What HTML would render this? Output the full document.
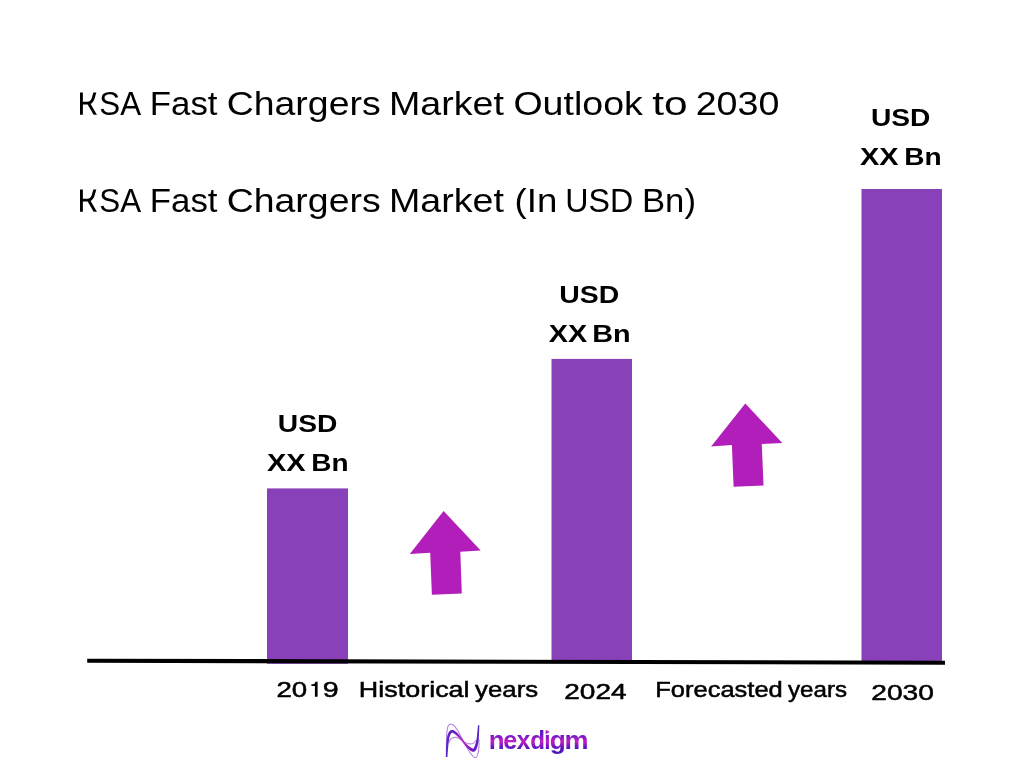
<!DOCTYPE html>
<html><head><meta charset="utf-8"><style>
html,body{margin:0;padding:0;background:#fff;width:1024px;height:768px;overflow:hidden}
svg{display:block;will-change:transform}
text{font-family:"Liberation Sans",sans-serif;font-kerning:none}
</style></head><body>
<svg width="1024" height="768" viewBox="0 0 1024 768">
<defs>
<linearGradient id="lg" gradientUnits="userSpaceOnUse" x1="0" y1="728" x2="0" y2="755">
<stop offset="0" stop-color="#4c1cc0"/><stop offset="0.26" stop-color="#6a1ac8"/><stop offset="0.5" stop-color="#c41ec4"/><stop offset="0.74" stop-color="#5a14c0"/><stop offset="1" stop-color="#4418c0"/>
</linearGradient>
<linearGradient id="ig" gradientUnits="userSpaceOnUse" x1="446" y1="0" x2="479" y2="0">
<stop offset="0" stop-color="#5626c4"/><stop offset="0.28" stop-color="#7020c8"/><stop offset="0.52" stop-color="#bc2cc4"/><stop offset="0.74" stop-color="#7c14c2"/><stop offset="1" stop-color="#5424c4"/>
</linearGradient>
</defs>
<rect width="1024" height="768" fill="#fff"/>
<rect x="267" y="488.4" width="81" height="175.4" fill="#8941BA"/>
<rect x="551.5" y="358.9" width="80.5" height="303" fill="#8941BA"/>
<rect x="861.5" y="189" width="80.5" height="472" fill="#8941BA"/>
<polygon points="87.2,658.7 945,660.8 945,664.7 87.2,662.8" fill="#000"/>
<polygon points="443.6,511.1 480.7,550.5 460.3,551.8 461.8,593.5 431.9,594.8 430.2,552.7 409.8,554.0" fill="#B21EB9"/>
<polygon points="745.3,403.5 782.3,443.0 761.8,444.1 763.5,485.5 733.6,486.8 731.9,445.1 711.1,446.4" fill="#B21EB9"/>
<text x="99.28" y="114.70" font-size="32.4" textLength="41.78" lengthAdjust="spacingAndGlyphs" fill="#000">SA</text>
<text x="149.84" y="114.70" font-size="32.4" textLength="67.71" lengthAdjust="spacingAndGlyphs" fill="#000">Fast</text>
<text x="226.70" y="114.70" font-size="32.4" textLength="153.95" lengthAdjust="spacingAndGlyphs" fill="#000">Chargers</text>
<text x="389.01" y="114.70" font-size="32.4" textLength="114.96" lengthAdjust="spacingAndGlyphs" fill="#000">Market</text>
<text x="513.42" y="114.70" font-size="32.4" textLength="129.42" lengthAdjust="spacingAndGlyphs" fill="#000">Outlook</text>
<text x="652.36" y="114.70" font-size="32.4" textLength="35.32" lengthAdjust="spacingAndGlyphs" fill="#000">to</text>
<text x="695.71" y="114.70" font-size="32.4" textLength="83.66" lengthAdjust="spacingAndGlyphs" fill="#000">2030</text>
<text x="99.28" y="211.70" font-size="32.4" textLength="41.78" lengthAdjust="spacingAndGlyphs" fill="#000">SA</text>
<text x="149.84" y="211.70" font-size="32.4" textLength="67.71" lengthAdjust="spacingAndGlyphs" fill="#000">Fast</text>
<text x="226.70" y="211.70" font-size="32.4" textLength="153.95" lengthAdjust="spacingAndGlyphs" fill="#000">Chargers</text>
<text x="389.01" y="211.70" font-size="32.4" textLength="114.96" lengthAdjust="spacingAndGlyphs" fill="#000">Market</text>
<text x="514.63" y="211.70" font-size="32.4" textLength="42.75" lengthAdjust="spacingAndGlyphs" fill="#000">(In</text>
<text x="565.32" y="211.70" font-size="32.4" textLength="67.92" lengthAdjust="spacingAndGlyphs" fill="#000">USD</text>
<text x="641.95" y="211.70" font-size="32.4" textLength="54.00" lengthAdjust="spacingAndGlyphs" fill="#000">Bn)</text>
<text x="277.81" y="432.10" font-size="24.5" font-weight="bold" textLength="59.58" lengthAdjust="spacingAndGlyphs" fill="#000">USD</text>
<text x="267.05" y="470.90" font-size="24.5" font-weight="bold" textLength="38.61" lengthAdjust="spacingAndGlyphs" fill="#000">XX</text>
<text x="311.33" y="470.90" font-size="24.5" font-weight="bold" textLength="37.31" lengthAdjust="spacingAndGlyphs" fill="#000">Bn</text>
<text x="559.29" y="303.30" font-size="24.5" font-weight="bold" textLength="60.00" lengthAdjust="spacingAndGlyphs" fill="#000">USD</text>
<text x="548.75" y="341.90" font-size="24.5" font-weight="bold" textLength="38.41" lengthAdjust="spacingAndGlyphs" fill="#000">XX</text>
<text x="592.27" y="341.90" font-size="24.5" font-weight="bold" textLength="38.41" lengthAdjust="spacingAndGlyphs" fill="#000">Bn</text>
<text x="871.01" y="126.20" font-size="24.5" font-weight="bold" textLength="59.47" lengthAdjust="spacingAndGlyphs" fill="#000">USD</text>
<text x="860.05" y="165.00" font-size="24.5" font-weight="bold" textLength="38.51" lengthAdjust="spacingAndGlyphs" fill="#000">XX</text>
<text x="904.32" y="165.00" font-size="24.5" font-weight="bold" textLength="37.42" lengthAdjust="spacingAndGlyphs" fill="#000">Bn</text>
<text x="276.41" y="697.00" font-size="22.5" textLength="30.77" lengthAdjust="spacingAndGlyphs" fill="#000" stroke="#000" stroke-width="0.5">20</text>
<text x="322.86" y="697.00" font-size="22.5" textLength="15.89" lengthAdjust="spacingAndGlyphs" fill="#000" stroke="#000" stroke-width="0.5">9</text>
<text x="358.89" y="696.90" font-size="22.3" textLength="110.71" lengthAdjust="spacingAndGlyphs" fill="#000" stroke="#000" stroke-width="0.5">Historical</text>
<text x="475.14" y="696.90" font-size="22.3" textLength="62.99" lengthAdjust="spacingAndGlyphs" fill="#000" stroke="#000" stroke-width="0.5">years</text>
<text x="564.29" y="698.90" font-size="22.5" textLength="62.33" lengthAdjust="spacingAndGlyphs" fill="#000" stroke="#000" stroke-width="0.5">2024</text>
<text x="655.31" y="696.90" font-size="22.0" textLength="127.43" lengthAdjust="spacingAndGlyphs" fill="#000" stroke="#000" stroke-width="0.5">Forecasted</text>
<text x="788.04" y="696.90" font-size="22.0" textLength="59.03" lengthAdjust="spacingAndGlyphs" fill="#000" stroke="#000" stroke-width="0.5">years</text>
<text x="871.28" y="699.90" font-size="22.5" textLength="62.62" lengthAdjust="spacingAndGlyphs" fill="#000" stroke="#000" stroke-width="0.5">2030</text>
<clipPath id="kc1"><rect x="70" y="92.4" width="40" height="22.3"/></clipPath>
<clipPath id="kc2"><rect x="70" y="189.3" width="40" height="22.1"/></clipPath>
<g fill="none" stroke="#000" stroke-width="2.85" clip-path="url(#kc1)">
<path d="M81.45,90 V117 M81.45,103.1 H87.5 C90.6,103.1 92.2,101.3 93.1,98.5 L95.4,90.5 M88.4,103.0 L96.6,117"/>
</g>
<g fill="none" stroke="#000" stroke-width="2.85" clip-path="url(#kc1)" transform="translate(0,97)">
<path d="M81.45,90 V117 M81.45,103.1 H87.5 C90.6,103.1 92.2,101.3 93.1,98.5 L95.4,90.5 M88.4,103.0 L96.6,117"/>
</g>
<path d="M311.4,684.3 L313.4,684.2 Q315.1,683.7 315.5,681.7 L317.6,681.7 L317.6,696.8 L314.9,696.8 L314.9,685.9 L311.4,685.9 Z" fill="#000"/>
<g id="logo">
<path d="M446.40,752.00 L446.41,750.70 L446.42,749.36 L446.43,748.01 L446.43,746.64 L446.44,745.27 L446.44,743.92 L446.45,742.58 L446.47,741.28 L446.49,740.02 L446.51,738.81 L446.55,737.67 L446.60,736.60 L446.66,735.59 L446.72,734.62 L446.79,733.70 L446.86,732.81 L446.94,731.97 L447.03,731.17 L447.13,730.41 L447.23,729.70 L447.33,729.03 L447.45,728.41 L447.57,727.83 L447.70,727.30 L447.84,726.82 L447.97,726.40 L448.12,726.04 L448.27,725.72 L448.43,725.45 L448.59,725.22 L448.77,725.02 L448.95,724.86 L449.15,724.71 L449.35,724.60 L449.57,724.49 L449.80,724.40 L450.05,724.32 L450.31,724.27 L450.58,724.24 L450.87,724.23 L451.16,724.25 L451.47,724.29 L451.78,724.37 L452.10,724.47 L452.42,724.60 L452.75,724.77 L453.07,724.97 L453.40,725.20 L453.73,725.47 L454.07,725.78 L454.41,726.13 L454.76,726.51 L455.11,726.92 L455.47,727.36 L455.82,727.83 L456.18,728.31 L456.54,728.81 L456.90,729.33 L457.25,729.86 L457.60,730.40 L457.95,730.96 L458.29,731.54 L458.63,732.16 L458.97,732.79 L459.31,733.44 L459.65,734.11 L459.99,734.78 L460.33,735.47 L460.68,736.15 L461.03,736.84 L461.39,737.52 L461.75,738.20 L462.12,738.88 L462.50,739.57 L462.89,740.28 L463.28,740.99 L463.67,741.70 L464.07,742.41 L464.47,743.12 L464.86,743.83 L465.26,744.52 L465.65,745.20 L466.03,745.86 L466.40,746.50 L466.77,747.13 L467.13,747.75 L467.48,748.37 L467.83,748.97 L468.18,749.57 L468.53,750.16 L468.87,750.73 L469.22,751.28 L469.56,751.82 L469.91,752.33 L470.25,752.83 L470.60,753.30 L470.96,753.76 L471.32,754.22 L471.69,754.68 L472.06,755.13 L472.43,755.55 L472.80,755.96 L473.16,756.33 L473.52,756.66 L473.86,756.95 L474.19,757.19 L474.51,757.38 L474.80,757.50 L475.08,757.57 L475.34,757.59 L475.59,757.57 L475.83,757.50 L476.05,757.39 L476.27,757.24 L476.48,757.04 L476.67,756.80 L476.86,756.52 L477.05,756.19 L477.23,755.82 L477.40,755.40 L477.57,754.92 L477.73,754.36 L477.89,753.73 L478.04,753.04 L478.18,752.32 L478.31,751.56 L478.44,750.78 L478.55,749.99 L478.66,749.21 L478.75,748.44 L478.83,747.70 L478.90,747.00 L478.95,746.33 L478.99,745.67 L479.01,745.01 L479.01,744.36 L479.01,743.71 L478.99,743.06 L478.98,742.42 L478.96,741.78 L478.94,741.14 L478.92,740.49 L478.90,739.85 L478.90,739.20" fill="none" stroke="#9a5ad8" stroke-opacity="0.75" stroke-width="1.1"/>
<path d="M449.30,742.50 L449.40,742.22 L449.49,741.93 L449.56,741.64 L449.64,741.34 L449.71,741.05 L449.79,740.76 L449.87,740.47 L449.97,740.19 L450.09,739.92 L450.23,739.66 L450.40,739.42 L450.60,739.20 L450.83,738.99 L451.08,738.78 L451.36,738.57 L451.66,738.37 L451.97,738.19 L452.31,738.01 L452.65,737.85 L453.01,737.71 L453.37,737.60 L453.74,737.50 L454.12,737.44 L454.50,737.40 L454.89,737.39 L455.29,737.41 L455.71,737.45 L456.14,737.51 L456.57,737.60 L457.02,737.71 L457.47,737.83 L457.92,737.97 L458.37,738.13 L458.82,738.31 L459.26,738.50 L459.70,738.70 L460.13,738.93 L460.57,739.20 L461.00,739.51 L461.43,739.84 L461.87,740.18 L462.30,740.54 L462.73,740.89 L463.17,741.24 L463.60,741.57 L464.03,741.88 L464.47,742.16 L464.90,742.40 L465.34,742.61 L465.79,742.81 L466.24,742.99 L466.69,743.16 L467.15,743.31 L467.60,743.44 L468.05,743.56 L468.49,743.67 L468.91,743.75 L469.33,743.82 L469.72,743.87 L470.10,743.90 L470.46,743.91 L470.81,743.90 L471.15,743.86 L471.47,743.81 L471.79,743.74 L472.09,743.66 L472.39,743.56 L472.67,743.44 L472.94,743.32 L473.21,743.19 L473.46,743.05 L473.70,742.90 L473.93,742.74 L474.14,742.56 L474.33,742.36 L474.51,742.15 L474.68,741.93 L474.84,741.70 L475.00,741.46 L475.16,741.23 L475.31,740.99 L475.47,740.75 L475.63,740.52 L475.80,740.30" fill="none" stroke="#a060d8" stroke-opacity="0.75" stroke-width="1.1"/>
<path d="M447.40,757.05 L447.45,756.44 L447.50,755.83 L447.54,755.22 L447.59,754.60 L447.63,753.98 L447.68,753.36 L447.72,752.74 L447.77,752.12 L447.81,751.50 L447.86,750.88 L447.90,750.27 L447.95,749.67 L448.00,749.06 L448.05,748.47 L448.10,747.88 L448.15,747.31 L448.21,746.74 L448.27,746.18 L448.33,745.64 L448.39,745.11 L448.45,744.57 L448.51,744.04 L448.57,743.51 L448.64,742.99 L448.70,742.46 L448.76,741.95 L448.82,741.44 L448.89,740.94 L448.96,740.45 L449.03,739.97 L449.10,739.50 L449.17,739.04 L449.25,738.60 L449.33,738.17 L449.42,737.75 L449.51,737.36 L449.60,736.98 L449.69,736.62 L449.79,736.29 L449.89,735.97 L450.00,735.67 L450.12,735.38 L450.23,735.11 L450.35,734.85 L450.47,734.60 L450.60,734.36 L450.72,734.14 L450.85,733.94 L450.98,733.75 L451.10,733.58 L451.23,733.43 L451.35,733.29 L451.47,733.16 L451.59,733.06 L451.69,732.97 L451.80,732.90 L451.89,732.84 L451.98,732.80 L452.05,732.77 L452.11,732.76 L452.13,732.74 L452.15,732.73 L452.17,732.72 L452.21,732.72 L452.27,732.72 L452.35,732.72 L452.44,732.74 L452.56,732.77 L452.69,732.82 L452.83,732.88 L452.98,732.95 L453.15,733.03 L453.32,733.13 L453.51,733.24 L453.70,733.35 L453.89,733.48 L454.09,733.61 L454.30,733.75 L454.51,733.90 L454.72,734.04 L454.93,734.18 L455.14,734.33 L455.36,734.49 L455.58,734.67 L455.82,734.86 L456.05,735.06 L456.30,735.27 L456.54,735.49 L456.79,735.72 L457.04,735.96 L457.29,736.20 L457.55,736.44 L457.80,736.68 L458.04,736.93 L458.29,737.18 L458.53,737.42 L458.77,737.66 L459.00,737.90 L459.23,738.13 L459.45,738.36 L459.65,738.58 L459.84,738.80 L460.03,739.02 L460.21,739.25 L460.39,739.47 L460.57,739.70 L460.74,739.92 L460.91,740.15 L461.09,740.38 L461.26,740.61 L461.43,740.84 L461.61,741.08 L461.78,741.31 L461.96,741.55 L462.14,741.78 L462.33,742.02 L462.51,742.26 L462.71,742.50 L462.91,742.74 L463.11,742.97 L463.29,743.22 L463.47,743.46 L463.66,743.71 L463.84,743.96 L464.03,744.21 L464.22,744.46 L464.42,744.72 L464.61,744.97 L464.81,745.23 L465.01,745.48 L465.21,745.74 L465.42,745.99 L465.63,746.24 L465.85,746.49 L466.06,746.74 L466.29,746.98 L466.52,747.23 L466.75,747.46 L466.99,747.70 L467.23,747.92 L467.46,748.14 L467.71,748.36 L467.96,748.60 L468.22,748.83 L468.49,749.07 L468.76,749.31 L469.05,749.55 L469.33,749.79 L469.62,750.02 L469.92,750.25 L470.21,750.47 L470.51,750.68 L470.81,750.88 L471.12,751.07 L471.43,751.24 L471.74,751.40 L472.07,751.54 L472.42,751.66 L472.79,751.75 L473.18,751.80 L473.56,751.77 L473.92,751.70 L474.26,751.59 L474.58,751.44 L474.88,751.27 L475.15,751.07 L475.38,750.85 L475.59,750.62 L475.78,750.38 L475.94,750.14 L476.09,749.90 L476.23,749.65 L476.36,749.39 L476.47,749.14 L476.59,748.88 L476.69,748.61 L476.80,748.35 L476.90,748.07 L477.00,747.80 L477.10,747.52 L477.20,747.21 L477.30,746.90 L477.40,746.58 L477.50,746.25 L477.59,745.91 L477.68,745.56 L477.76,745.20 L477.85,744.83 L477.93,744.45 L478.01,744.06 L478.09,743.66 L478.16,743.24 L478.24,742.81 L478.31,742.36 L478.38,741.90 L478.44,741.42 L478.51,740.93 L478.57,740.42 L478.63,739.89 L478.69,739.34 L478.74,738.77 L478.79,738.17 L478.83,737.54 L478.87,736.89 L478.91,736.22 L478.94,735.53 L478.98,734.83 L479.01,734.11 L479.04,733.39 L479.07,732.65 L479.09,731.90 L479.12,731.15 L479.15,730.40 L479.18,729.65 L479.20,728.90 L479.23,728.15 L479.26,727.41 L479.29,726.68 L479.32,725.96 L479.35,725.25 L478.05,725.15 L477.98,725.86 L477.90,726.58 L477.83,727.31 L477.75,728.05 L477.68,728.79 L477.61,729.54 L477.54,730.29 L477.47,731.04 L477.39,731.79 L477.32,732.53 L477.25,733.26 L477.17,733.98 L477.10,734.69 L477.02,735.38 L476.94,736.05 L476.86,736.70 L476.78,737.33 L476.69,737.94 L476.60,738.51 L476.51,739.06 L476.42,739.58 L476.33,740.09 L476.24,740.57 L476.15,741.04 L476.06,741.49 L475.97,741.92 L475.87,742.34 L475.77,742.74 L475.68,743.12 L475.58,743.49 L475.48,743.84 L475.37,744.18 L475.27,744.51 L475.16,744.82 L475.06,745.13 L474.95,745.42 L474.84,745.70 L474.73,745.97 L474.61,746.23 L474.50,746.48 L474.38,746.74 L474.27,747.00 L474.16,747.24 L474.05,747.46 L473.95,747.67 L473.85,747.86 L473.75,748.04 L473.65,748.19 L473.56,748.32 L473.48,748.43 L473.40,748.52 L473.34,748.58 L473.28,748.62 L473.25,748.64 L473.22,748.65 L473.21,748.64 L473.22,748.63 L473.22,748.62 L473.22,748.61 L473.22,748.60 L473.20,748.62 L473.14,748.63 L473.03,748.62 L472.88,748.58 L472.69,748.52 L472.48,748.44 L472.25,748.34 L472.01,748.22 L471.75,748.08 L471.48,747.93 L471.21,747.76 L470.93,747.59 L470.65,747.41 L470.37,747.22 L470.09,747.03 L469.82,746.83 L469.54,746.64 L469.28,746.45 L469.02,746.26 L468.77,746.08 L468.54,745.91 L468.32,745.73 L468.10,745.55 L467.88,745.36 L467.67,745.16 L467.45,744.96 L467.23,744.75 L467.02,744.54 L466.80,744.32 L466.59,744.10 L466.38,743.88 L466.17,743.66 L465.96,743.43 L465.75,743.20 L465.54,742.97 L465.33,742.74 L465.12,742.51 L464.91,742.28 L464.70,742.05 L464.49,741.83 L464.31,741.60 L464.13,741.37 L463.96,741.14 L463.79,740.91 L463.63,740.68 L463.46,740.45 L463.30,740.21 L463.13,739.98 L462.97,739.74 L462.80,739.50 L462.64,739.26 L462.47,739.02 L462.29,738.78 L462.12,738.53 L461.94,738.28 L461.75,738.04 L461.56,737.79 L461.36,737.54 L461.16,737.29 L460.95,737.04 L460.75,736.79 L460.54,736.53 L460.33,736.27 L460.10,736.00 L459.88,735.73 L459.65,735.45 L459.41,735.18 L459.18,734.90 L458.94,734.63 L458.69,734.36 L458.45,734.09 L458.21,733.82 L457.96,733.56 L457.72,733.30 L457.47,733.06 L457.23,732.81 L456.99,732.58 L456.75,732.36 L456.51,732.15 L456.28,731.96 L456.06,731.79 L455.84,731.62 L455.63,731.46 L455.41,731.30 L455.19,731.14 L454.97,730.98 L454.75,730.83 L454.52,730.68 L454.29,730.54 L454.05,730.41 L453.80,730.29 L453.54,730.17 L453.27,730.07 L452.99,729.99 L452.70,729.92 L452.39,729.88 L452.08,729.87 L451.75,729.89 L451.41,729.95 L451.09,730.04 L450.81,730.17 L450.55,730.32 L450.30,730.49 L450.07,730.67 L449.84,730.87 L449.63,731.08 L449.43,731.30 L449.24,731.54 L449.06,731.79 L448.88,732.04 L448.72,732.31 L448.56,732.59 L448.40,732.88 L448.26,733.19 L448.12,733.50 L447.98,733.82 L447.86,734.16 L447.73,734.50 L447.62,734.86 L447.51,735.23 L447.40,735.61 L447.30,736.01 L447.21,736.43 L447.12,736.85 L447.04,737.29 L446.96,737.74 L446.89,738.21 L446.82,738.68 L446.76,739.16 L446.70,739.66 L446.64,740.16 L446.59,740.67 L446.53,741.18 L446.48,741.70 L446.43,742.23 L446.39,742.76 L446.34,743.29 L446.30,743.82 L446.25,744.36 L446.21,744.89 L446.17,745.44 L446.14,746.01 L446.11,746.58 L446.08,747.16 L446.05,747.75 L446.03,748.35 L446.01,748.95 L445.99,749.56 L445.97,750.17 L445.96,750.79 L445.94,751.41 L445.93,752.03 L445.91,752.65 L445.90,753.28 L445.88,753.90 L445.87,754.52 L445.85,755.13 L445.84,755.74 L445.82,756.35 L445.80,756.95Z" fill="url(#ig)"/>
<text x="488.79" y="748.70" font-size="26" font-weight="bold" textLength="15.81" lengthAdjust="spacingAndGlyphs" fill="url(#lg)">n</text>
<text x="503.32" y="748.70" font-size="26" font-weight="bold" textLength="13.94" lengthAdjust="spacingAndGlyphs" fill="url(#lg)">e</text>
<text x="516.83" y="748.70" font-size="26" font-weight="bold" textLength="13.54" lengthAdjust="spacingAndGlyphs" fill="url(#lg)">x</text>
<text x="530.21" y="748.70" font-size="26" font-weight="bold" textLength="14.79" lengthAdjust="spacingAndGlyphs" fill="url(#lg)">d</text>
<text x="544.20" y="748.70" font-size="26" font-weight="bold" textLength="6.28" lengthAdjust="spacingAndGlyphs" fill="url(#lg)">ı</text>
<text x="549.72" y="748.70" font-size="26" font-weight="bold" textLength="16.03" lengthAdjust="spacingAndGlyphs" fill="url(#lg)">g</text>
<text x="564.52" y="748.70" font-size="26" font-weight="bold" textLength="24.06" lengthAdjust="spacingAndGlyphs" fill="url(#lg)">m</text>
<path d="M545.9,730.2 L549.3,731.9 L545.9,733.8 Z" fill="#b020c0" stroke="#b020c0" stroke-width="0.5" stroke-linejoin="round"/>
</g>
</svg>
</body></html>
